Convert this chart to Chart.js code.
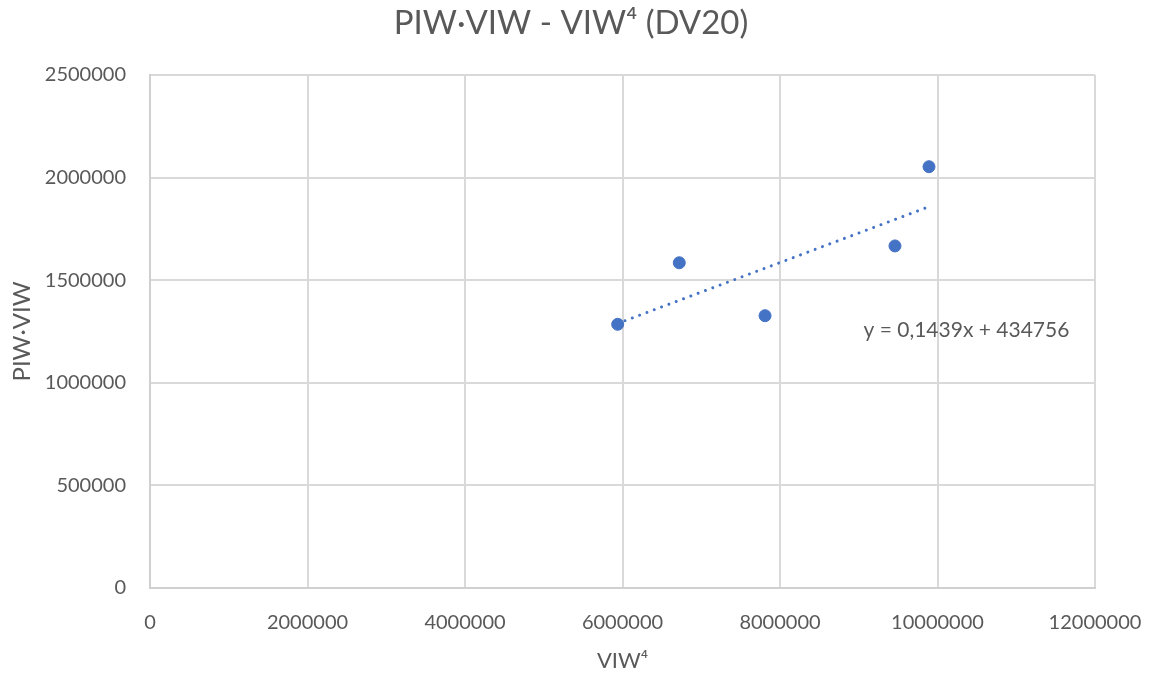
<!DOCTYPE html>
<html>
<head>
<meta charset="utf-8">
<script src="https://cdn.jsdelivr.net/npm/chart.js@4.4.1/dist/chart.umd.min.js"></script>
<style>
    html, body { margin: 0; padding: 0; background: #ffffff; }
    #wrap { width: 1154px; height: 674px; }
</style>
</head>
<body>
<div id="wrap"><canvas id="chart" width="1154" height="674"></canvas></div>
<script>
// data
const viw4 = [5939000, 6721000, 7810000, 9460000, 9892000];
const piwViw = [1285000, 1585000, 1327000, 1667000, 2053000];

// trendline as printed on the chart
const trendSlope = 0.1439;
const trendIntercept = 434756;
const trendLabel = 'y = 0,1439x + 434756';

const xTicks = [0, 2000000, 4000000, 6000000, 8000000, 10000000, 12000000];
const yTicks = [0, 500000, 1000000, 1500000, 2000000, 2500000];

const chartTitle = 'PIW·VIW - VIW⁴ (DV20)';
const xTitle = 'VIW⁴';
const yTitle = 'PIW·VIW';

const blue = '#4472C4';
const grey = '#595959';
const gridGrey = '#d9d9d9';
const fontFamily = 'Lato, "Open Sans", sans-serif';

const points = viw4.map((x, i) => ({ x: x, y: piwViw[i] }));
const xMin = Math.min(...viw4);
const xMax = Math.max(...viw4);
const trendPoints = [
    { x: xMin, y: trendSlope * xMin + trendIntercept },
    { x: xMax, y: trendSlope * xMax + trendIntercept }
];

// chart title (drawn by hand so it sits where the original has it)
const titleText = {
    id: 'titleText',
    afterDraw(chart) {
        const ctx = chart.ctx;
        ctx.save();
        ctx.font = '33px ' + fontFamily;
        ctx.fillStyle = grey;
        ctx.textAlign = 'center';
        ctx.textBaseline = 'middle';
        ctx.fillText(chartTitle, 571, 23);
        ctx.restore();
    }
};

// equation text next to the trendline
const equationLabel = {
    id: 'equationLabel',
    afterDatasetsDraw(chart) {
        const ctx = chart.ctx;
        const xs = chart.scales.x;
        const ys = chart.scales.y;
        ctx.save();
        ctx.font = '21px ' + fontFamily;
        ctx.fillStyle = grey;
        ctx.textAlign = 'left';
        ctx.textBaseline = 'middle';
        ctx.fillText(trendLabel, xs.getPixelForValue(9060000), ys.getPixelForValue(1257000));
        ctx.restore();
    }
};

new Chart(document.getElementById('chart'), {
    type: 'scatter',
    data: {
        datasets: [{
            label: 'data',
            data: points,
            backgroundColor: blue,
            borderColor: blue,
            pointRadius: 6,
            pointHoverRadius: 6,
            order: 1
        }, {
            label: 'trend',
            type: 'line',
            data: trendPoints,
            borderColor: blue,
            borderWidth: 3,
            borderDash: [0.01, 7.8],
            borderCapStyle: 'round',
            pointRadius: 0,
            fill: false,
            order: 2
        }]
    },
    options: {
        responsive: false,
        devicePixelRatio: 1,
        animation: false,
        layout: { padding: { left: 0, right: 59, top: 75, bottom: 0 } },
        plugins: {
            legend: { display: false },
            tooltip: { enabled: false },
            title: { display: false }
        },
        scales: {
            x: {
                type: 'linear',
                min: 0,
                max: 12000000,
                afterBuildTicks(scale) {
                    scale.ticks = xTicks.map(v => ({ value: v }));
                },
                afterFit(scale) {
                    scale.height = 86;
                    scale.paddingLeft = 0;
                    scale.paddingRight = 0;
                },
                grid: { color: gridGrey, lineWidth: 2, drawTicks: false },
                border: { color: '#d0d0d0', width: 2 },
                ticks: {
                    color: grey,
                    font: { family: fontFamily, size: 20 },
                    padding: 23,
                    maxRotation: 0,
                    callback: v => String(v)
                },
                title: {
                    display: true,
                    text: xTitle,
                    color: grey,
                    font: { family: fontFamily, size: 22 },
                    padding: { top: 6, bottom: 0 }
                }
            },
            y: {
                type: 'linear',
                min: 0,
                max: 2500000,
                afterBuildTicks(scale) {
                    scale.ticks = yTicks.map(v => ({ value: v }));
                },
                afterFit(scale) {
                    scale.width = 150;
                    scale.paddingTop = 0;
                    scale.paddingBottom = 0;
                },
                grid: { color: gridGrey, lineWidth: 2, drawTicks: false },
                border: { color: '#d0d0d0', width: 2 },
                ticks: {
                    color: grey,
                    font: { family: fontFamily, size: 20 },
                    padding: 24,
                    callback: v => String(v)
                },
                title: {
                    display: true,
                    text: yTitle,
                    color: grey,
                    font: { family: fontFamily, size: 24 },
                    padding: { top: 8, bottom: 8 }
                }
            }
        }
    },
    plugins: [titleText, equationLabel]
});
</script>
</body>
</html>
